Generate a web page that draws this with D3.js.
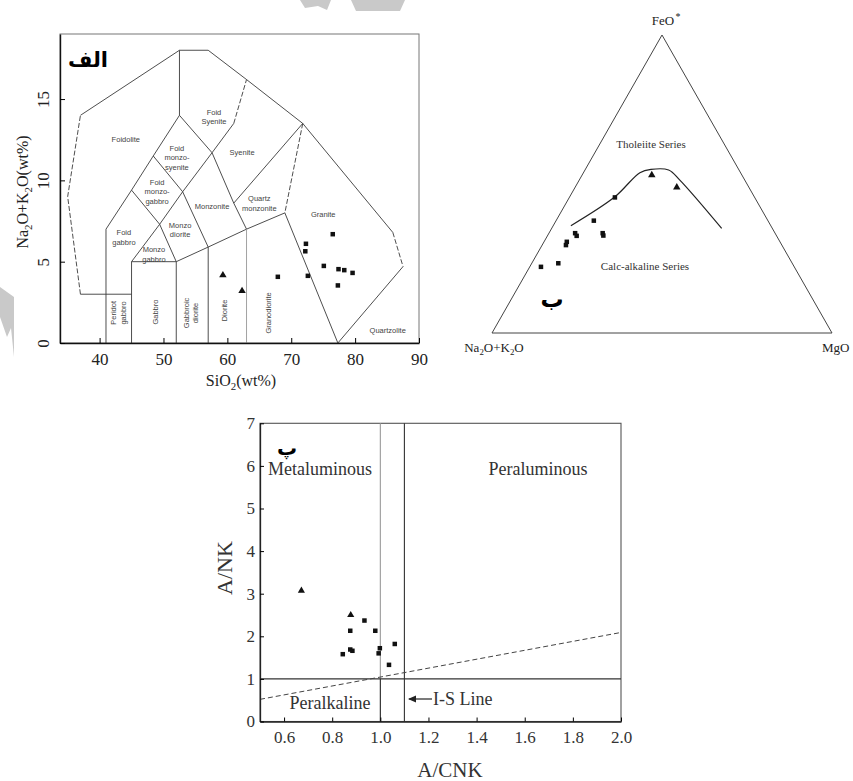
<!DOCTYPE html>
<html>
<head>
<meta charset="utf-8">
<script src="https://cdn.jsdelivr.net/npm/d3@7"></script>
<style>
  body { margin: 0; background: #fff; }
</style>
</head>
<body>
<svg id="fig" width="853" height="781"></svg>
<script>
// ---------- panel الف : TAS (SiO2 vs Na2O+K2O) ----------
const tasSiO2Sq = [67.9, 72.3, 72.2, 76.5, 75.1, 72.6, 77.4, 78.3, 79.6, 77.3];
const tasAlkSq = [4.07, 6.1, 5.64, 6.69, 4.74, 4.13, 4.54, 4.48, 4.31, 3.54];
const tasSiO2Tri = [59.3, 62.3];
const tasAlkTri = [4.17, 3.2];
const tasXTicks = [40, 50, 60, 70, 80, 90];
const tasYTicks = [0, 5, 10, 15];

// field boundaries, [SiO2, alkali] (Middlemost 1994)
const tasSolid = [
  [[37, 3], [45, 3]],
  [[37, 14], [52.5, 18], [57, 18], [63, 16.2], [71.8, 13.5], [85.9, 6.8]],
  [[87.5, 4.7], [77.3, 0]],
  [[41, 0], [41, 7], [45, 9.4], [48.4, 11.5], [52.5, 14], [57.6, 11.7], [61, 8.6], [71.8, 13.5]],
  [[69, 8], [77.3, 0]],
  [[52, 5], [57, 5.9], [63, 7], [69, 8]],
  [[45, 0], [45, 5], [49.4, 7.3], [53, 9.3], [57.6, 11.7]],
  [[45, 9.4], [49.4, 7.3]],
  [[48.4, 11.5], [53, 9.3], [57, 5.9]],
  [[45, 5], [52, 5]],
  [[49.4, 7.3], [52, 5], [52, 0]],
  [[57, 0], [57, 5.9]],
  [[61, 8.6], [63, 7]],
  [[52.5, 14], [52.5, 18]],
  [[57.6, 11.7], [61, 13.5]]
];
const tasDashed = [
  [[37, 3], [35, 9], [37, 14]],
  [[85.9, 6.8], [87.5, 4.7]],
  [[71.8, 13.5], [69, 8]],
  [[61, 13.5], [63, 16.2]]
];
const tasGrey = [[[63, 0], [63, 7]]];

// field names with anchor in data units
const tasFieldNames = [
  "Foidolite", "Foid\nSyenite", "Foid\nmonzo-\nsyenite", "Syenite",
  "Foid\nmonzo-\ngabbro", "Foid\ngabbro", "Monzo\ndiorite", "Monzo\ngabbro",
  "Monzonite", "Quartz\nmonzonite", "Granite", "Quartzolite"
];
const tasFieldX = [44.1, 57.9, 52.1, 62.3, 49.0, 43.8, 52.6, 48.5, 57.6, 65.0, 75.0, 85.1];
const tasFieldY = [12.5, 13.9, 11.4, 11.7, 9.3, 6.5, 6.95, 5.45, 8.4, 8.6, 7.9, 0.8];
const tasVertNames = ["Peridot\ngabbro", "Gabbro", "Gabbroic\ndiorite", "Diorite", "Granodiorite"];
const tasVertX = [42.9, 48.8, 54.3, 59.6, 66.4];
const tasVertY = [1.85, 1.9, 1.85, 2.0, 1.85];

// ---------- panel ب : AFM ternary (A = Na2O+K2O, F = FeO*, M = MgO) ----------
const afmSqA = [0.411, 0.512, 0.588, 0.588, 0.507, 0.509, 0.627, 0.635, 0.688, 0.745];
const afmSqF = [0.455, 0.377, 0.335, 0.326, 0.335, 0.327, 0.306, 0.295, 0.234, 0.222];
const afmSqM = [0.134, 0.111, 0.077, 0.086, 0.158, 0.164, 0.067, 0.070, 0.078, 0.033];
const afmTriA = [0.265, 0.212];
const afmTriF = [0.530, 0.489];
const afmTriM = [0.205, 0.299];
// tholeiite / calc-alkaline boundary
const afmCurveF = [0.360, 0.457, 0.538, 0.549, 0.547, 0.513, 0.351];
const afmCurveM = [0.052, 0.133, 0.166, 0.193, 0.246, 0.296, 0.500];

// ---------- panel پ : A/CNK vs A/NK ----------
const acnkSq = [0.934, 0.875, 0.979, 1.060, 0.875, 0.884, 0.844, 0.998, 0.993, 1.036];
const ankSq = [2.37, 2.13, 2.13, 1.82, 1.69, 1.66, 1.58, 1.72, 1.60, 1.33];
const acnkTri = [0.672, 0.877];
const ankTri = [3.07, 2.50];
const acnkTicks = [0.6, 0.8, 1.0, 1.2, 1.4, 1.6, 1.8, 2.0];
const ankTicks = [0, 1, 2, 3, 4, 5, 6, 7];
const isLineX = [1.0, 1.1];
const dashLineX = [0.5, 2.0];
const dashLineY = [0.52, 2.09];

const svg = d3.select("#fig");
const serif = "'Liberation Serif','Times New Roman',serif";
const sans = "'Liberation Sans',Arial,sans-serif";
const arabic = "'DejaVu Sans',sans-serif";

// text with subscripts: parts = [[text, isSub], ...]
function richText(sel, parts, fs) {
  let sub = false;
  parts.forEach(([t, s]) => {
    const ts = sel.append("tspan").text(t);
    if (s && !sub) ts.attr("dy", fs * 0.25).attr("font-size", fs * 0.68);
    if (!s && sub) ts.attr("dy", -fs * 0.25);
    sub = s;
  });
}

function multiLine(g, x, y, str, fs, lh, rot) {
  const lines = str.split("\n");
  const t = g.append("text")
    .attr("transform", `translate(${x},${y})` + (rot ? " rotate(-90)" : ""))
    .attr("text-anchor", "middle")
    .style("font-family", sans)
    .attr("font-size", fs)
    .attr("fill", "#444");
  const off = -(lines.length - 1) * lh / 2;
  lines.forEach((l, i) => {
    t.append("tspan").attr("x", 0).attr("y", off + i * lh).attr("dy", "0.35em").text(l);
  });
}

function square(g, x, y, s) {
  g.append("rect").attr("x", x - s / 2).attr("y", y - s / 2).attr("width", s).attr("height", s).attr("fill", "#111");
}
const triSym = d3.symbol().type(d3.symbolTriangle);
function triangle(g, x, y, size) {
  g.append("path").attr("d", triSym.size(size)()).attr("transform", `translate(${x},${y})`).attr("fill", "#111");
}

// faint watermark fragments of the source scan
svg.append("path").attr("d", "M0,287 L14,297 L14,357 L11,328 L7,337 L0,317 Z").attr("fill", "#c9c9c9");
svg.append("path").attr("d", "M300,0 L331,0 L327,10 L318,6 L305,8 Z").attr("fill", "#c9c9c9");
svg.append("path").attr("d", "M351,0 L405,0 L400,11 L356,11 Z").attr("fill", "#c9c9c9");

// ================= panel الف =================
const tx = d3.scaleLinear().domain([33.8, 90]).range([60, 419]);
const ty = d3.scaleLinear().domain([0, 19]).range([343, 34]);
const gA = svg.append("g");

gA.append("rect").attr("x", 60).attr("y", 34).attr("width", 359).attr("height", 309)
  .attr("fill", "none").attr("stroke", "#777").attr("stroke-width", 1);

const tasLine = d3.line().x(d => tx(d[0])).y(d => ty(d[1]));
tasSolid.forEach(seg => gA.append("path").attr("d", tasLine(seg)).attr("fill", "none")
  .attr("stroke", "#3a3a3a").attr("stroke-width", 0.9));
tasDashed.forEach(seg => gA.append("path").attr("d", tasLine(seg)).attr("fill", "none")
  .attr("stroke", "#3a3a3a").attr("stroke-width", 0.9).attr("stroke-dasharray", "5,2"));
tasGrey.forEach(seg => gA.append("path").attr("d", tasLine(seg)).attr("fill", "none")
  .attr("stroke", "#999").attr("stroke-width", 0.9));

const axA = gA.append("g").attr("transform", "translate(0,343)")
  .call(d3.axisBottom(tx).tickValues(tasXTicks).tickSize(-5).tickSizeOuter(0).tickPadding(10));
axA.select(".domain").attr("stroke", "#111").attr("stroke-width", 1.4);
axA.selectAll("text").style("font-family", serif).style("font-size", "17px").attr("fill", "#222");

const ayA = gA.append("g").attr("transform", "translate(60,0)")
  .call(d3.axisLeft(ty).tickValues(tasYTicks).tickSize(-5).tickSizeOuter(0));
ayA.select(".domain").attr("stroke", "#111").attr("stroke-width", 1.4);
ayA.selectAll("text").attr("x", null).attr("dy", null).attr("text-anchor", "middle")
  .attr("transform", "translate(-11,0) rotate(-90)")
  .style("font-family", serif).style("font-size", "17px").attr("fill", "#222");

tasFieldNames.forEach((n, i) => multiLine(gA, tx(tasFieldX[i]), ty(tasFieldY[i]), n, 7.5, 9.5, false));
tasVertNames.forEach((n, i) => multiLine(gA, tx(tasVertX[i]), ty(tasVertY[i]), n, 7.5, 9.5, true));

tasSiO2Sq.forEach((v, i) => square(gA, tx(v), ty(tasAlkSq[i]), 4.5));
tasSiO2Tri.forEach((v, i) => triangle(gA, tx(v), ty(tasAlkTri[i]), 24));

const yLabA = gA.append("text").attr("transform", "translate(28,192) rotate(-90)")
  .attr("text-anchor", "middle").style("font-family", serif).attr("font-size", 16).attr("fill", "#222");
richText(yLabA, [["Na", false], ["2", true], ["O+K", false], ["2", true], ["O(wt%)", false]], 16);

const xLabA = gA.append("text").attr("x", 241).attr("y", 386)
  .attr("text-anchor", "middle").style("font-family", serif).attr("font-size", 16).attr("fill", "#222");
richText(xLabA, [["SiO", false], ["2", true], ["(wt%)", false]], 16);

gA.append("text").attr("x", 88).attr("y", 67).attr("text-anchor", "middle")
  .style("font-family", arabic).attr("font-weight", "bold").attr("font-size", 21).text("الف");

// ================= panel ب =================
const tcx = d3.scaleLinear().domain([0, 1]).range([492, 832]);
const tcy = d3.scaleLinear().domain([0, 1]).range([333, 35]);
const tern = (a, f, m) => { const s = a + f + m; f /= s; m /= s; return [tcx(m + f / 2), tcy(f)]; };
const gB = svg.append("g");

gB.append("path")
  .attr("d", d3.line()([tern(1, 0, 0), tern(0, 1, 0), tern(0, 0, 1)]) + "Z")
  .attr("fill", "none").attr("stroke", "#444").attr("stroke-width", 1);

const curvePts = afmCurveF.map((f, i) => tern(1 - f - afmCurveM[i], f, afmCurveM[i]));
gB.append("path").attr("d", d3.line().curve(d3.curveCatmullRom)(curvePts))
  .attr("fill", "none").attr("stroke", "#222").attr("stroke-width", 1.2);

afmSqA.forEach((a, i) => { const p = tern(a, afmSqF[i], afmSqM[i]); square(gB, p[0], p[1], 4.5); });
afmTriA.forEach((a, i) => { const p = tern(a, afmTriF[i], afmTriM[i]); triangle(gB, p[0], p[1], 24); });

gB.append("text").attr("x", 663).attr("y", 25).attr("text-anchor", "middle")
  .style("font-family", serif).attr("font-size", 13).attr("fill", "#222").text("FeO");
gB.append("text").attr("x", 678).attr("y", 20).attr("text-anchor", "middle")
  .style("font-family", serif).attr("font-size", 10).attr("fill", "#222").text("*");
const naLab = gB.append("text").attr("x", 494).attr("y", 352).attr("text-anchor", "middle")
  .style("font-family", serif).attr("font-size", 13).attr("fill", "#222");
richText(naLab, [["Na", false], ["2", true], ["O+K", false], ["2", true], ["O", false]], 13);
gB.append("text").attr("x", 822).attr("y", 352)
  .style("font-family", serif).attr("font-size", 13).attr("fill", "#222").text("MgO");
gB.append("text").attr("x", 651).attr("y", 148).attr("text-anchor", "middle")
  .style("font-family", serif).attr("font-size", 11).attr("fill", "#333").text("Tholeiite Series");
gB.append("text").attr("x", 645).attr("y", 270).attr("text-anchor", "middle")
  .style("font-family", serif).attr("font-size", 11).attr("fill", "#333").text("Calc-alkaline Series");
gB.append("text").attr("x", 552).attr("y", 307).attr("text-anchor", "middle")
  .style("font-family", arabic).attr("font-weight", "bold").attr("font-size", 23).text("ب");

// ================= panel پ =================
const px = d3.scaleLinear().domain([0.5, 2.0]).range([260, 621]);
const py = d3.scaleLinear().domain([0, 7]).range([721.5, 423.3]);
const gC = svg.append("g");

gC.append("rect").attr("x", 260).attr("y", py(7)).attr("width", 361).attr("height", py(0) - py(7))
  .attr("fill", "none").attr("stroke", "#555").attr("stroke-width", 1.1);

// A/CNK = 1.0 (grey above A/NK = 1) and the I-S line 1.1
gC.append("line").attr("x1", px(isLineX[0])).attr("x2", px(isLineX[0])).attr("y1", py(7)).attr("y2", py(1))
  .attr("stroke", "#999").attr("stroke-width", 1.1);
gC.append("line").attr("x1", px(isLineX[0])).attr("x2", px(isLineX[0])).attr("y1", py(1)).attr("y2", py(0))
  .attr("stroke", "#222").attr("stroke-width", 1.1);
gC.append("line").attr("x1", px(isLineX[1])).attr("x2", px(isLineX[1])).attr("y1", py(7)).attr("y2", py(0))
  .attr("stroke", "#333").attr("stroke-width", 1.1);
gC.append("line").attr("x1", px(0.5)).attr("x2", px(2.0)).attr("y1", py(1)).attr("y2", py(1))
  .attr("stroke", "#333").attr("stroke-width", 1.1);
gC.append("line").attr("x1", px(dashLineX[0])).attr("x2", px(dashLineX[1]))
  .attr("y1", py(dashLineY[0])).attr("y2", py(dashLineY[1]))
  .attr("stroke", "#444").attr("stroke-width", 1).attr("stroke-dasharray", "5,3");

const axC = gC.append("g").attr("transform", `translate(0,${py(0)})`)
  .call(d3.axisBottom(px).tickValues(acnkTicks).tickFormat(d3.format(".1f")).tickSize(-4).tickSizeOuter(0).tickPadding(9));
axC.select(".domain").attr("stroke", "#222").attr("stroke-width", 1.3);
axC.selectAll("text").style("font-family", serif).style("font-size", "17px").attr("fill", "#333");

const ayC = gC.append("g").attr("transform", "translate(260,0)")
  .call(d3.axisLeft(py).tickValues(ankTicks).tickFormat(d3.format("d")).tickSize(-4).tickSizeOuter(0).tickPadding(5));
ayC.select(".domain").attr("stroke", "#222").attr("stroke-width", 1.3);
ayC.selectAll("text").style("font-family", serif).style("font-size", "17px").attr("fill", "#333");

acnkSq.forEach((v, i) => square(gC, px(v), py(ankSq[i]), 4.5));
acnkTri.forEach((v, i) => triangle(gC, px(v), py(ankTri[i]), 22));

gC.append("text").attr("x", 320).attr("y", 475).attr("text-anchor", "middle")
  .style("font-family", serif).attr("font-size", 18).attr("fill", "#333").text("Metaluminous");
gC.append("text").attr("x", 538).attr("y", 475).attr("text-anchor", "middle")
  .style("font-family", serif).attr("font-size", 18).attr("fill", "#333").text("Peraluminous");
gC.append("text").attr("x", 330).attr("y", 709).attr("text-anchor", "middle")
  .style("font-family", serif).attr("font-size", 18).attr("fill", "#333").text("Peralkaline");
gC.append("path").attr("d", "M409,699 L432,699").attr("stroke", "#222").attr("stroke-width", 1.2);
gC.append("path").attr("d", "M408,699 L416,695.5 L416,702.5 Z").attr("fill", "#222");
gC.append("text").attr("x", 433).attr("y", 705)
  .style("font-family", serif).attr("font-size", 18).attr("fill", "#333").text("I-S Line");
gC.append("text").attr("x", 287).attr("y", 455).attr("text-anchor", "middle")
  .style("font-family", arabic).attr("font-weight", "bold").attr("font-size", 20).text("پ");

gC.append("text").attr("transform", "translate(232,568) rotate(-90)").attr("text-anchor", "middle")
  .style("font-family", serif).attr("font-size", 22).attr("fill", "#333").text("A/NK");
gC.append("text").attr("x", 450).attr("y", 777).attr("text-anchor", "middle")
  .style("font-family", serif).attr("font-size", 21).attr("fill", "#333").text("A/CNK");
</script>
</body>
</html>
